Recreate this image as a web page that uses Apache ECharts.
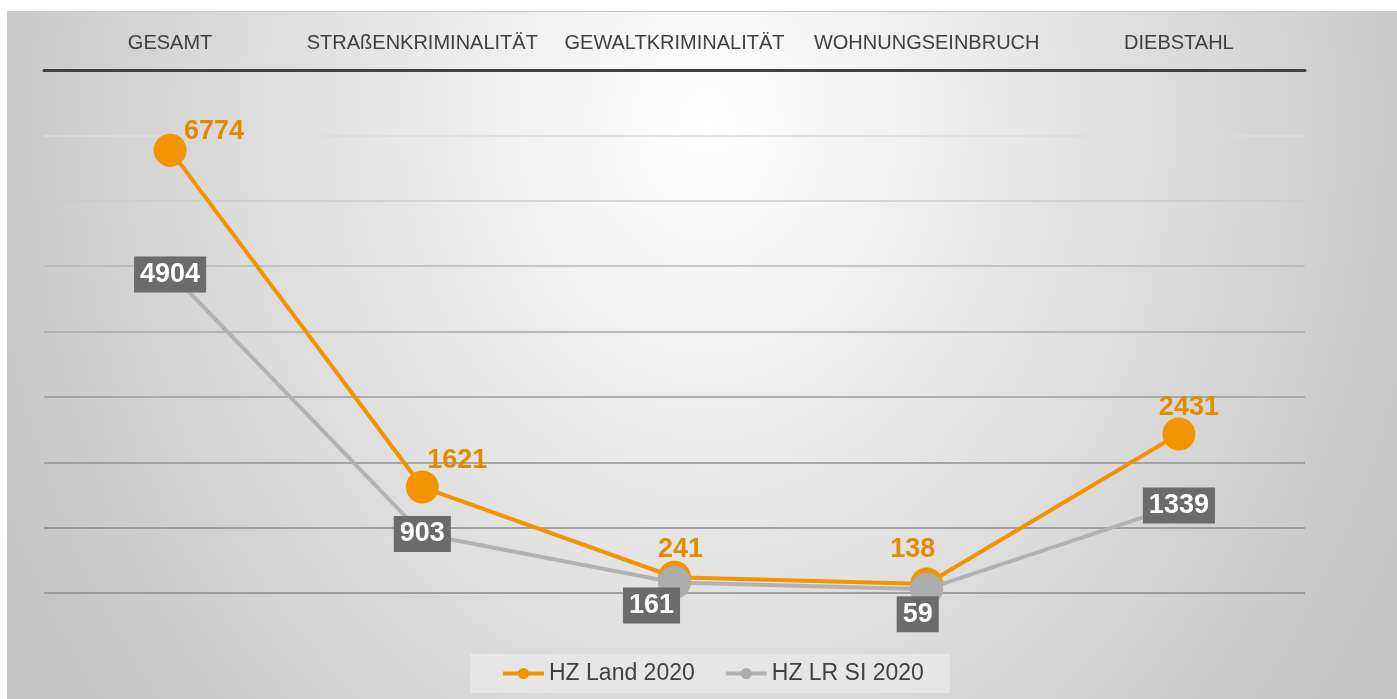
<!DOCTYPE html>
<html>
<head>
<meta charset="utf-8">
<script src="https://cdn.jsdelivr.net/npm/echarts@6/dist/echarts.min.js"></script>
<style>
  html, body { margin: 0; padding: 0; background: #ffffff; }
  #bg { position: absolute; left: 7px; top: 11px; width: 1390px; height: 688px;
        border-top: 1px solid #c9c9c9;
        background: radial-gradient(780px 960px at 700px 110px, #ffffff 0%, #c4c4c4 100%); }
  #chart { position: absolute; left: 0; top: 0; width: 1397px; height: 699px; }
</style>
</head>
<body>
<div id="bg"></div>
<div id="chart"></div>
<script>
const categories = ['GESAMT', 'STRAßENKRIMINALITÄT', 'GEWALTKRIMINALITÄT', 'WOHNUNGSEINBRUCH', 'DIEBSTAHL'];
const landValues = [6774, 1621, 241, 138, 2431];
const lrValues = [4904, 903, 161, 59, 1339];
const seriesNames = ['HZ Land 2020', 'HZ LR SI 2020'];

// label placement (style, not data)
const landLabelOffsets = [[44, -19], [35, -26], [6, -28], [-14, -34], [10, -27]];
const lrLabelOffsets = [[0, 2], [0, 0], [-23, 23], [-9, 25], [0, 0]];

const FONT = '"Liberation Sans", Arial, sans-serif';

const chart = echarts.init(document.getElementById('chart'), null, { renderer: 'canvas' });
chart.setOption({
  backgroundColor: 'transparent',
  animation: false,
  grid: { left: 44, right: 92, top: 70, bottom: 106, containLabel: false },
  legend: {
    left: 470, top: 654,
    backgroundColor: '#e6e6e6',
    padding: [8, 26, 8, 31],
    itemWidth: 41, itemHeight: 14, itemGap: 29,
    lineStyle: { width: 4 },
    textStyle: { fontFamily: FONT, fontSize: 23, color: '#404040' },
    data: seriesNames
  },
  xAxis: {
    type: 'category',
    position: 'top',
    data: categories,
    boundaryGap: true,
    axisLine: { onZero: false, lineStyle: { color: '#404040', width: 3 } },
    axisTick: { show: false },
    axisLabel: { interval: 0, margin: 17, fontFamily: FONT, fontSize: 20, color: '#404040' }
  },
  yAxis: {
    type: 'value',
    min: 0, max: 8000, interval: 1000,
    axisLine: { show: false },
    axisTick: { show: false },
    axisLabel: { show: false },
    splitLine: { lineStyle: { color: ['#8a8a8a', '#8c8c8c', '#919191', '#9a9a9a', '#a7a7a7', '#b7b7b7', '#cbcbcb', '#dcdcdc', '#404040'], width: 1.5 } }
  },
  series: [
    {
      name: seriesNames[0],
      type: 'line',
      data: landValues.map((v, i) => ({ value: v, label: { offset: landLabelOffsets[i] } })),
      symbol: 'circle',
      symbolSize: 33,
      itemStyle: { color: '#f29400' },
      lineStyle: { color: '#f29400', width: 4 },
      label: {
        show: true, position: 'inside',
        fontFamily: FONT, fontSize: 27, fontWeight: 'bold', color: '#e08b00'
      },
      z: 2
    },
    {
      name: seriesNames[1],
      type: 'line',
      data: lrValues.map((v, i) => ({ value: v, label: { offset: lrLabelOffsets[i] } })),
      symbol: 'circle',
      symbolSize: 33,
      itemStyle: { color: '#acacac' },
      lineStyle: { color: '#b2b2b2', width: 4 },
      label: {
        show: true, position: 'inside',
        fontFamily: FONT, fontSize: 27, fontWeight: 'bold', color: '#ffffff',
        backgroundColor: '#6b6b6b', padding: [5, 6, 4, 6]
      },
      z: 3
    }
  ]
});
</script>
</body>
</html>
